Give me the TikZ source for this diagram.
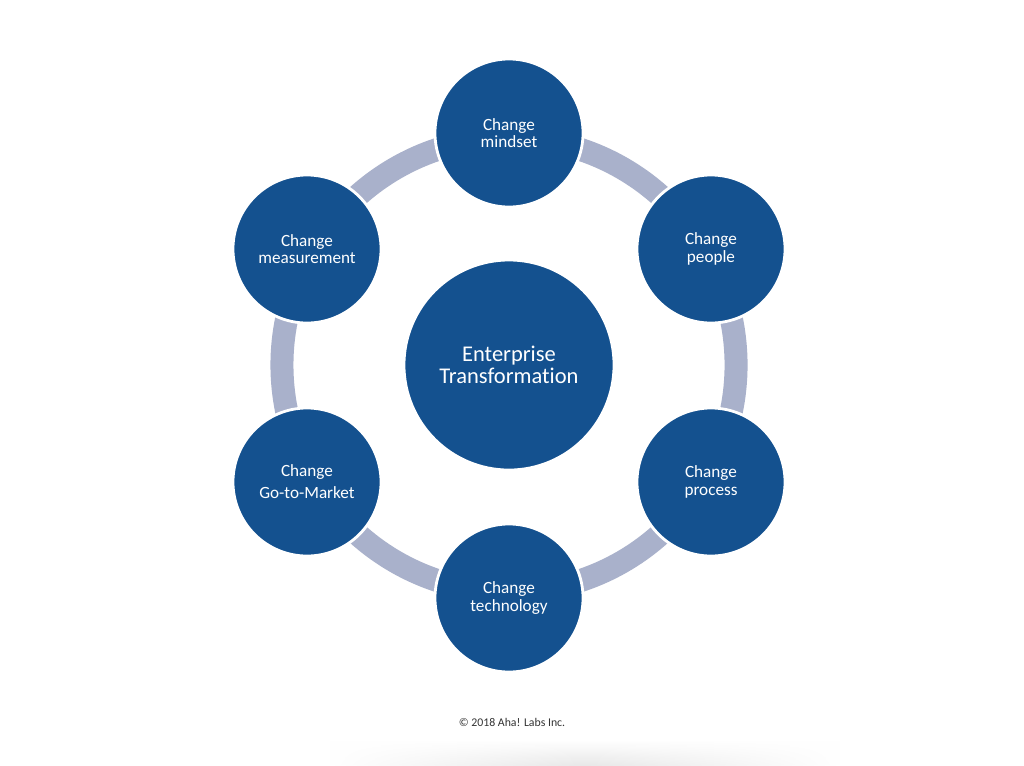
\documentclass[tikz,border=0pt]{standalone}
\usepackage{fontspec}
\setmainfont{Carlito}[Ligatures=CommonOff]
\usetikzlibrary{fadings}
\definecolor{hubblue}{HTML}{14518F}
\definecolor{ringgray}{HTML}{A9B1CB}
\tikzfading[name=sidefade, left color=transparent!100, right color=transparent!100, middle color=transparent!0]
\tikzset{
  spoke/.style={circle, fill=hubblue, draw=white, line width=2pt, minimum size=3.7cm,
    inner sep=0pt, text=white, align=center, font=\fontsize{12.2}{12.4}\selectfont},
  hub/.style={spoke, minimum size=5.25cm, font=\fontsize{16}{15.8}\selectfont},
  ring/.style={draw=ringgray, line width=0.575cm}
}
\begin{document}
\begin{tikzpicture}[x=0.025cm, y=-0.025cm]
  \useasboundingbox[fill=white] (0,0) rectangle (1024,765);
  % bottom shadow
  \shade[top color=white, bottom color=black!9, path fading=sidefade] (330,740) rectangle (840,765);
  \coordinate (O) at (509,365);
  \draw[ring] (O) circle (5.675cm);
  \node[hub] (enterprise) at (O) {Enterprise\\Transformation};
  \node[spoke] (mindset) at (509,133) {Change\\mindset};
  \node[spoke] (people) at (711,249) {Change\\people};
  \node[spoke] (process) at (711,482) {Change\\process};
  \node[spoke] (technology) at (509,598) {Change\\technology};
  \node[spoke, font=\fontsize{12.2}{15.6}\selectfont] (market) at (307,482) {Change\\Go-to-Market};
  \node[spoke] (measurement) at (307,249) {Change\\measurement};
  \node[text=black!80, font=\fontsize{8.4}{9}\selectfont] (copy) at (512,722) {© 2018 Aha! Labs Inc.};
\end{tikzpicture}
\end{document}
